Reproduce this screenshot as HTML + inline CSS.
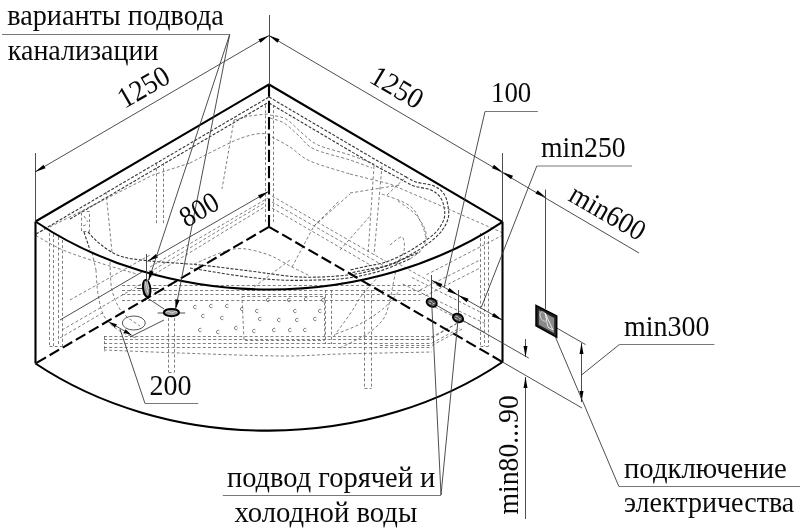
<!DOCTYPE html>
<html><head><meta charset="utf-8">
<style>
html,body{margin:0;padding:0;background:#fff;width:800px;height:528px;overflow:hidden}
svg{display:block;will-change:transform}
text{font-family:"Liberation Serif",serif;font-size:28px;fill:#0a0a0a}
.b{stroke:#000;stroke-width:2.1;fill:none;stroke-linejoin:round}
.bd{stroke:#000;stroke-width:2.1;fill:none;stroke-dasharray:11 4.2}
.t{stroke:#3a3a3a;stroke-width:0.9;fill:none}
.g{stroke:#777;stroke-width:1.1;fill:none}
.d{stroke:#606060;stroke-width:0.8;fill:none;stroke-dasharray:3 2.2}
.dd{stroke:#333;stroke-width:1.1;fill:none;stroke-dasharray:3 1.6}
.ar{fill:#000;stroke:none}
.jt{stroke:#666;stroke-width:0.8;fill:none}
</style></head>
<body>
<svg width="800" height="528" viewBox="0 0 800 528">
<g id="interior">
<path class="dd" d="M36.0,234.0 L269.0,97.0"/>
<path class="dd" d="M70.0,219.0 L269.0,102.0"/>
<path class="dd" d="M269.0,97.0 L376.0,160.0 L406.0,177.0"/>
<path class="dd" d="M269.0,103.0 L374.0,165.0 L404.0,181.0"/>
<path class="dd" d="M406.0,177.0 C407.7,177.8 411.3,180.5 416.0,182.0 C420.7,183.5 429.3,184.0 434.0,186.0 C438.7,188.0 441.7,190.7 444.0,194.0 C446.3,197.3 447.3,201.8 448.0,206.0 C448.7,210.2 449.3,214.5 448.0,219.0 C446.7,223.5 443.7,228.7 440.0,233.0 C436.3,237.3 431.0,241.3 426.0,245.0 C421.0,248.7 416.0,251.7 410.0,255.0 C404.0,258.3 396.7,262.7 390.0,265.0 C383.3,267.3 376.7,267.7 370.0,269.0 C363.3,270.3 353.3,272.3 350.0,273.0"/>
<path class="dd" d="M404.0,181.0 C405.7,181.8 409.5,184.5 414.0,186.0 C418.5,187.5 426.7,188.2 431.0,190.0 C435.3,191.8 437.8,194.2 440.0,197.0 C442.2,199.8 443.3,203.3 444.0,207.0 C444.7,210.7 445.3,214.8 444.0,219.0 C442.7,223.2 439.7,228.0 436.0,232.0 C432.3,236.0 427.0,239.5 422.0,243.0 C417.0,246.5 412.0,249.8 406.0,253.0 C400.0,256.2 392.3,259.8 386.0,262.0 C379.7,264.2 374.0,264.7 368.0,266.0 C362.0,267.3 353.0,269.3 350.0,270.0"/>
<path class="d" d="M350.0,174.0 L390.0,184.0 L446.0,208.0 L503.0,233.0"/>
<path class="d" d="M265.5,105.0 L265.5,222.0"/>
<path class="d" d="M273.5,105.0 L273.5,222.0"/>
<path class="d" d="M36.0,234.0 L153.0,175.0 L190.0,163.0"/>
<path class="d" d="M190.0,163.0 C197.3,159.3 223.0,145.8 234.0,141.0 C245.0,136.2 250.3,135.2 256.0,134.0 C261.7,132.8 266.0,134.0 268.0,134.0"/>
<path class="d" d="M234.0,120.0 C236.7,119.3 244.3,117.0 250.0,116.0 C255.7,115.0 265.0,114.3 268.0,114.0"/>
<path class="d" d="M234.0,120.0 L222.0,189.0"/>
<path class="d" d="M156.5,163.0 L156.5,224.0"/>
<path class="d" d="M163.5,163.0 L163.5,224.0"/>
<path class="d" d="M270.0,115.0 C272.7,115.7 280.7,116.0 286.0,119.0 C291.3,122.0 296.7,128.7 302.0,133.0 C307.3,137.3 310.0,141.3 318.0,145.0 C326.0,148.7 340.7,151.8 350.0,155.0 C359.3,158.2 370.0,162.5 374.0,164.0"/>
<path class="d" d="M270.0,118.0 C272.3,118.8 279.3,120.2 284.0,123.0 C288.7,125.8 293.0,130.7 298.0,135.0 C303.0,139.3 305.3,144.8 314.0,149.0 C322.7,153.2 340.3,156.8 350.0,160.0 C359.7,163.2 368.3,166.7 372.0,168.0"/>
<path class="d" d="M272.0,137.0 C275.0,138.7 283.7,143.0 290.0,147.0 C296.3,151.0 300.0,156.5 310.0,161.0 C320.0,165.5 343.3,171.8 350.0,174.0"/>
<path class="d" d="M374.0,166.0 L368.0,255.0"/>
<path class="d" d="M382.0,166.0 L374.0,255.0"/>
<path class="d" d="M292.0,267.0 L314.0,226.0 L340.0,200.0"/>
<path class="d" d="M340.0,250.0 L371.0,215.0"/>
<path class="d" d="M387.0,195.0 L407.0,176.0"/>
<path class="d" d="M382.0,194.0 C386.7,196.0 403.3,200.8 410.0,206.0 C416.7,211.2 419.3,219.7 422.0,225.0 C424.7,230.3 425.3,235.8 426.0,238.0"/>
<path class="d" d="M398.0,201.0 C401.0,203.3 411.3,209.7 416.0,215.0 C420.7,220.3 425.0,227.3 426.0,233.0 C427.0,238.7 424.7,244.7 422.0,249.0 C419.3,253.3 412.0,257.3 410.0,259.0"/>
<path class="d" d="M390.0,245.0 C392.0,243.7 399.7,236.0 402.0,237.0 C404.3,238.0 405.0,246.3 404.0,251.0 C403.0,255.7 397.3,262.7 396.0,265.0"/>
<path class="d" d="M350.0,193.0 L400.0,185.0"/>
<path class="d" d="M480.5,233.0 L480.5,346.0"/>
<path class="d" d="M488.5,236.0 L488.5,346.0"/>
<path class="d" d="M480.5,346.5 L488.5,346.5"/>
<path class="d" d="M503.0,235.0 L426.0,275.0"/>
<path class="d" d="M49.5,233.0 L49.5,346.0"/>
<path class="d" d="M53.5,234.0 L53.5,346.0"/>
<path class="d" d="M58.5,237.0 L58.5,346.0"/>
<path class="d" d="M62.5,240.0 L62.5,346.0"/>
<path class="d" d="M49.5,346.5 L62.5,346.5"/>
<path class="d" d="M36.0,235.6 C40.5,238.0 52.2,245.4 62.9,250.0 C73.6,254.6 87.8,259.0 100.0,263.0 C112.2,267.0 130.0,272.0 136.0,273.8"/>
<path class="d" d="M92.0,252.5 L96.0,270.0"/>
<path class="d" d="M81.5,211.5 L89.5,211.5 L89.5,231.5 L81.5,231.5 Z"/>
<path class="dd" d="M84.0,232.0 L90.0,250.0"/>
<path class="d" d="M84.0,216.0 L88.0,222.0"/>
<path class="d" d="M83.0,226.0 L88.0,224.0"/>
<path class="dd" d="M88.0,232.0 C90.0,234.0 94.7,240.0 100.0,244.0 C105.3,248.0 111.7,253.2 120.0,256.0 C128.3,258.8 136.7,259.5 150.0,261.0 C163.3,262.5 183.3,263.3 200.0,265.0 C216.7,266.7 233.3,269.0 250.0,271.0 C266.7,273.0 283.7,276.3 300.0,277.0 C316.3,277.7 334.7,276.5 348.0,275.0 C361.3,273.5 368.0,271.8 380.0,268.0 C392.0,264.2 413.3,254.7 420.0,252.0"/>
<path class="d" d="M106.0,192.0 L112.0,252.0"/>
<path class="d" d="M96.0,270.0 C96.3,274.0 96.7,286.3 98.0,294.0 C99.3,301.7 100.7,310.0 104.0,316.0 C107.3,322.0 112.7,326.3 118.0,330.0 C123.3,333.7 133.0,336.7 136.0,338.0"/>
<path class="d" d="M110.0,262.0 C110.3,266.7 110.0,281.7 112.0,290.0 C114.0,298.3 117.3,306.0 122.0,312.0 C126.7,318.0 137.0,323.7 140.0,326.0"/>
<path class="d" d="M150.0,267.0 L268.0,198.0"/>
<path class="d" d="M150.0,272.0 L266.0,202.0"/>
<path class="d" d="M150.0,277.0 L266.0,206.0"/>
<path class="d" d="M272.0,196.0 L392.0,265.0"/>
<path class="d" d="M272.0,202.0 L384.0,266.0"/>
<path class="d" d="M272.0,208.0 L372.0,266.0"/>
<path class="d" d="M194.0,264.0 C200.7,261.5 222.0,250.7 234.0,249.0 C246.0,247.3 256.7,251.2 266.0,254.0 C275.3,256.8 282.7,262.3 290.0,266.0 C297.3,269.7 306.7,274.3 310.0,276.0"/>
<path class="d" d="M314.0,226.0 L350.0,194.0"/>
<path class="d" d="M250.0,290.0 L290.0,260.0"/>
<path class="dd" d="M190.0,268.0 C198.3,269.3 225.0,274.0 240.0,276.0 C255.0,278.0 267.0,279.3 280.0,280.0 C293.0,280.7 306.7,280.3 318.0,280.0 C329.3,279.7 337.7,279.5 348.0,278.0 C358.3,276.5 369.7,274.2 380.0,271.0 C390.3,267.8 405.0,261.0 410.0,259.0"/>
<path class="d" d="M122.0,285.5 L420.0,285.5"/>
<path class="d" d="M122.0,290.5 L425.0,290.5"/>
<path class="d" d="M122.0,294.5 L425.0,294.5"/>
<path class="d" d="M122.0,300.5 L420.0,300.5"/>
<path class="d" d="M420.0,290.0 L480.0,260.0"/>
<path class="d" d="M425.0,296.0 L480.0,268.0"/>
<path class="d" d="M104.0,336.5 L432.0,336.5"/>
<path class="d" d="M104.0,339.5 L432.0,339.5"/>
<path class="d" d="M104.0,343.5 L432.0,343.5"/>
<path class="d" d="M104.0,347.5 L432.0,347.5"/>
<path class="d" d="M432.0,338.0 L456.0,324.0"/>
<path class="d" d="M432.0,343.0 L460.0,328.0"/>
<path class="d" d="M104.0,350.0 C116.7,350.5 150.7,352.0 180.0,353.0 C209.3,354.0 253.3,355.8 280.0,356.0 C306.7,356.2 314.7,354.7 340.0,354.0 C365.3,353.3 416.7,352.3 432.0,352.0"/>
<path class="d" d="M104.5,336.0 L104.5,352.0"/>
<path class="d" d="M242.0,296.5 L324.5,296.5 L324.5,340.5 L244.0,340.5 Z"/>
<path class="d" d="M325.5,290.0 L325.5,344.0"/>
<path class="d" d="M331.5,290.0 L331.5,344.0"/>
<path class="d" d="M168.5,318.0 L168.5,372.0"/>
<path class="d" d="M174.5,318.0 L174.5,372.0"/>
<path class="d" d="M168.5,372.5 L174.5,372.5"/>
<path class="d" d="M364.5,290.0 L364.5,388.0"/>
<path class="d" d="M371.5,290.0 L371.5,388.0"/>
<path class="d" d="M364.5,388.5 L371.5,388.5"/>
<path class="d" d="M334.0,336.0 C336.7,332.3 345.7,320.3 350.0,314.0 C354.3,307.7 357.3,302.0 360.0,298.0 C362.7,294.0 362.7,293.8 366.0,290.0 C369.3,286.2 377.7,277.5 380.0,275.0"/>
<path class="d" d="M340.0,348.0 C342.3,346.8 349.0,343.7 354.0,341.0 C359.0,338.3 365.0,335.8 370.0,332.0 C375.0,328.2 380.7,323.3 384.0,318.0 C387.3,312.7 388.7,304.7 390.0,300.0 C391.3,295.3 391.0,295.0 392.0,290.0 C393.0,285.0 395.3,273.3 396.0,270.0"/>
<path class="d" d="M336.0,334.0 C340.0,332.3 352.0,328.3 360.0,324.0 C368.0,319.7 377.3,313.7 384.0,308.0 C390.7,302.3 397.3,293.0 400.0,290.0"/>
<path class="t" d="M60.0,320.0 L142.0,272.0"/>
<path class="d" d="M62.0,330.0 L150.0,279.0"/>
<path class="d" d="M70.0,300.0 L150.0,255.0"/>
<path class="d" d="M60.0,338.0 L104.0,312.0"/>
<path class="t" d="M146.0,297.0 L164.0,309.0"/>
<path class="t" d="M164.0,320.0 L130.0,337.0"/>
<path class="d" d="M412.0,277.5 L486.0,315.0"/>
<path class="d" d="M402.7,284.0 L486.0,324.0"/>
<path class="d" d="M435.0,307.0 L486.0,333.0"/>
<path class="d" d="M395.0,262.0 L440.0,287.0"/>
<path class="d" d="M380.0,339.5 L427.0,339.5 L459.6,322.0"/>
<path class="d" d="M380.0,345.5 L432.0,345.5 L464.0,328.0"/>
<path class="d" d="M484.5,236.0 L484.5,346.0"/>
<path class="jt" d="M196.4,305.9 A1.7,1.7 0 1 0 196.4,308.1"/>
<path class="jt" d="M212.4,304.9 A1.7,1.7 0 1 0 212.4,307.1"/>
<path class="jt" d="M228.4,304.9 A1.7,1.7 0 1 0 228.4,307.1"/>
<path class="jt" d="M243.4,307.9 A1.7,1.7 0 1 0 243.4,310.1"/>
<path class="jt" d="M261.4,317.9 A1.7,1.7 0 1 0 261.4,320.1"/>
<path class="jt" d="M280.4,318.9 A1.7,1.7 0 1 0 280.4,321.1"/>
<path class="jt" d="M298.4,318.9 A1.7,1.7 0 1 0 298.4,321.1"/>
<path class="jt" d="M316.4,317.9 A1.7,1.7 0 1 0 316.4,320.1"/>
<path class="jt" d="M204.4,314.9 A1.7,1.7 0 1 0 204.4,317.1"/>
<path class="jt" d="M223.4,316.9 A1.7,1.7 0 1 0 223.4,319.1"/>
<path class="jt" d="M255.4,329.9 A1.7,1.7 0 1 0 255.4,332.1"/>
<path class="jt" d="M275.4,328.9 A1.7,1.7 0 1 0 275.4,331.1"/>
<path class="jt" d="M291.4,328.9 A1.7,1.7 0 1 0 291.4,331.1"/>
<path class="jt" d="M306.4,328.9 A1.7,1.7 0 1 0 306.4,331.1"/>
<path class="jt" d="M201.4,328.9 A1.7,1.7 0 1 0 201.4,331.1"/>
<path class="jt" d="M219.4,330.9 A1.7,1.7 0 1 0 219.4,333.1"/>
<path class="jt" d="M237.4,326.9 A1.7,1.7 0 1 0 237.4,329.1"/>
<path class="jt" d="M269.4,298.9 A1.7,1.7 0 1 0 269.4,301.1"/>
<path class="jt" d="M290.4,298.9 A1.7,1.7 0 1 0 290.4,301.1"/>
<path class="jt" d="M307.4,297.9 A1.7,1.7 0 1 0 307.4,300.1"/>
<path class="jt" d="M324.4,298.9 A1.7,1.7 0 1 0 324.4,301.1"/>
<path class="jt" d="M258.4,309.9 A1.7,1.7 0 1 0 258.4,312.1"/>
<path class="jt" d="M296.4,309.9 A1.7,1.7 0 1 0 296.4,312.1"/>
<path class="jt" d="M321.4,309.9 A1.7,1.7 0 1 0 321.4,312.1"/>
</g>
<path class="b" d="M35.5,221.5 L269,84.5 L502.5,221.8"/>
<path class="b" d="M35.5,221.5 L35.5,363.5"/>
<path class="b" d="M502.5,221.8 L502.5,362"/>
<path class="b" d="M35.5,221.5 A360.1,284.4 0 0 0 502.5,221.8"/>
<path class="b" d="M35.5,363.5 A360.1,284.4 0 0 0 502.5,362"/>
<path class="bd" style="stroke-dasharray:12.3 4" d="M269,84.5 L269,226.8"/>
<path class="bd" d="M269,226.8 L35.5,363.5"/>
<path class="bd" d="M269,226.8 L502.5,362"/>
<line class="t" x1="35.5" y1="153.0" x2="35.5" y2="222.0"/>
<line class="t" x1="269.5" y1="15.0" x2="269.5" y2="85.0"/>
<line class="t" x1="502.5" y1="153.0" x2="502.5" y2="221.0"/>
<line class="t" x1="545.5" y1="189.5" x2="545.5" y2="309.0"/>
<line class="t" x1="35.0" y1="172.0" x2="269.0" y2="35.5"/>
<path class="ar" d="M35.0,172.0 L43.5,164.7 L45.5,168.2 Z"/>
<path class="ar" d="M269.0,35.5 L260.5,42.8 L258.5,39.3 Z"/>
<line class="t" x1="269.0" y1="35.5" x2="639.0" y2="253.0"/>
<path class="ar" d="M269.0,35.5 L279.5,39.3 L277.5,42.8 Z"/>
<path class="ar" d="M502.5,172.0 L492.0,168.2 L494.0,164.7 Z"/>
<path class="ar" d="M502.5,172.0 L513.0,175.8 L511.0,179.3 Z"/>
<path class="ar" d="M546.0,197.5 L535.5,193.7 L537.5,190.2 Z"/>
<line class="t" x1="147.5" y1="261.3" x2="268.5" y2="191.5"/>
<path class="ar" d="M268.5,191.5 L260.0,198.7 L258.0,195.3 Z"/>
<path class="ar" d="M147.5,261.3 L156.0,254.1 L158.0,257.5 Z"/>
<line class="t" x1="431.5" y1="275.0" x2="431.5" y2="302.0"/>
<line class="t" x1="458.5" y1="290.0" x2="458.5" y2="318.0"/>
<line class="t" x1="431.8" y1="280.3" x2="502.5" y2="320.2"/>
<path class="ar" d="M431.8,280.3 L442.4,283.9 L440.4,287.4 Z"/>
<path class="ar" d="M458.0,295.0 L447.4,291.4 L449.4,287.9 Z"/>
<path class="ar" d="M458.0,295.0 L468.6,298.7 L466.6,302.2 Z"/>
<path class="ar" d="M502.5,320.2 L491.9,316.5 L493.9,313.0 Z"/>
<line class="t" x1="109.0" y1="322.0" x2="131.5" y2="335.0"/>
<path class="ar" d="M109.0,322.0 L116.9,324.3 L114.9,327.7 Z"/>
<path class="ar" d="M131.5,335.0 L123.6,332.7 L125.6,329.3 Z"/>
<line class="t" x1="525.5" y1="339.0" x2="525.5" y2="357.0"/>
<path class="ar" d="M525.5,357.0 L523.5,346.0 L527.5,346.0 Z"/>
<line class="t" x1="525.5" y1="377.0" x2="525.5" y2="519.0"/>
<path class="ar" d="M525.5,377.0 L527.5,388.0 L523.5,388.0 Z"/>
<line class="t" x1="431.7" y1="302.5" x2="528.8" y2="358.1"/>
<line class="t" x1="502.5" y1="362.0" x2="582.0" y2="408.0"/>
<line class="t" x1="581.5" y1="343.0" x2="581.5" y2="402.0"/>
<path class="ar" d="M581.5,343.0 L583.5,354.0 L579.5,354.0 Z"/>
<path class="ar" d="M581.5,402.0 L579.5,391.0 L583.5,391.0 Z"/>
<line class="t" x1="556.7" y1="328.0" x2="585.5" y2="344.5"/>
<path d="M536,305.5 L556.7,316 L556.7,337.3 L536,325.8 Z" fill="#222" stroke="#000" stroke-width="1.5"/>
<path d="M538.8,310 L554.2,318 L554.2,333.2 L538.8,324.8 Z" fill="#8a8a8a" stroke="none"/>
<ellipse cx="543.5" cy="316.5" rx="3" ry="5" transform="rotate(-25 543.5 316.5)" fill="none" stroke="#ddd" stroke-width="0.8"/>
<path d="M545,313 L553,330 L548,327 Z" stroke="#eee" stroke-width="0.9" fill="none"/>
<ellipse cx="431.7" cy="302.7" rx="5.3" ry="3.9" transform="rotate(25 431.7 302.7)" fill="#555" stroke="#000" stroke-width="1.9"/>
<path d="M428.7,302.2 q1.5,-1.5 3,0 q1.5,1.5 3,0 M429.2,304.2 l5,0" stroke="#ddd" stroke-width="0.7" fill="none" transform="rotate(25 431.7 302.7)"/>
<ellipse cx="458" cy="318" rx="5.3" ry="3.9" transform="rotate(25 458 318)" fill="#555" stroke="#000" stroke-width="1.9"/>
<path d="M455,317.5 q1.5,-1.5 3,0 q1.5,1.5 3,0 M455.5,319.5 l5,0" stroke="#ddd" stroke-width="0.7" fill="none" transform="rotate(25 458 318)"/>
<line class="t" x1="136.9" y1="288.5" x2="158.6" y2="288.5"/>
<line class="t" x1="146.5" y1="254.0" x2="146.5" y2="300.0"/>
<line class="t" x1="157.6" y1="313.0" x2="185.2" y2="313.0"/>
<ellipse cx="146.7" cy="288.5" rx="3.6" ry="8.6" transform="rotate(-8 146.7 288.5)" fill="#9a9a9a" stroke="#000" stroke-width="2"/>
<path d="M145,281 L148,293 M147,280 L149,289" stroke="#eee" stroke-width="0.7" fill="none"/>
<ellipse cx="171.4" cy="312.6" rx="7.6" ry="3.6" fill="#9a9a9a" stroke="#000" stroke-width="2.1"/>
<path d="M166,312 q2,-2 4,0 q2,2 4,0 q1.5,-1.5 3,0" stroke="#eee" stroke-width="0.7" fill="none"/>
<ellipse cx="133.8" cy="323" rx="11.5" ry="7" fill="none" stroke="#555" stroke-width="1"/>
<line class="g" x1="2.0" y1="34.5" x2="229.7" y2="34.5"/>
<line class="t" x1="229.7" y1="34.5" x2="148.5" y2="280.5"/>
<path class="ar" d="M148.5,280.5 L149.5,270.3 L153.7,271.7 Z"/>
<line class="t" x1="229.7" y1="34.5" x2="175.5" y2="309.5"/>
<path class="ar" d="M175.5,309.5 L175.3,299.3 L179.6,300.1 Z"/>
<line class="g" x1="485.0" y1="111.5" x2="537.8" y2="111.5"/>
<line class="t" x1="485.0" y1="111.5" x2="444.2" y2="287.0"/>
<line class="g" x1="536.8" y1="166.0" x2="632.0" y2="166.0"/>
<line class="t" x1="536.8" y1="166.0" x2="481.3" y2="307.3"/>
<line class="g" x1="619.4" y1="344.5" x2="714.4" y2="344.5"/>
<line class="t" x1="619.4" y1="344.5" x2="581.5" y2="375.0"/>
<line class="g" x1="145.0" y1="403.5" x2="198.3" y2="403.5"/>
<line class="t" x1="145.0" y1="403.5" x2="120.0" y2="329.0"/>
<line class="g" x1="222.8" y1="495.5" x2="441.0" y2="495.5"/>
<line class="t" x1="441.0" y1="495.0" x2="431.7" y2="302.5"/>
<line class="t" x1="441.0" y1="495.0" x2="458.2" y2="318.2"/>
<line class="g" x1="618.8" y1="486.5" x2="800.0" y2="486.5"/>
<line class="t" x1="618.8" y1="486.3" x2="555.5" y2="337.3"/>
<text transform="translate(7.3,25) scale(1.007,1.05)" >варианты подвода</text>
<text transform="translate(7.8,60) scale(1.0,1.05)" >канализации</text>
<text transform="translate(124.5,109) rotate(-30) scale(0.98,1.05)" >1250</text>
<text transform="translate(368,81.5) rotate(30.5) scale(1.0,1.05)" >1250</text>
<text transform="translate(186.5,228) rotate(-30) scale(0.96,1.05)" >800</text>
<text transform="translate(491,102) scale(0.96,1.05)" >100</text>
<text transform="translate(541,157) scale(0.99,1.05)" >min250</text>
<text transform="translate(567,200) rotate(30) scale(0.97,1.05)" >min600</text>
<text transform="translate(624,336) scale(1.0,1.05)" >min300</text>
<text transform="translate(149.5,395) scale(1.0,1.05)" >200</text>
<text transform="translate(227,487) scale(1.016,1.05)" >подвод горячей и</text>
<text transform="translate(234.5,521.5) scale(1.026,1.05)" >холодной воды</text>
<text transform="translate(518,514.5) rotate(-90) scale(0.99,1.05)" >min80...90</text>
<text transform="translate(624,477.5) scale(1.026,1.05)" >подключение</text>
<text transform="translate(624,512) scale(1.003,1.05)" >электричества</text>
</svg>
</body></html>
